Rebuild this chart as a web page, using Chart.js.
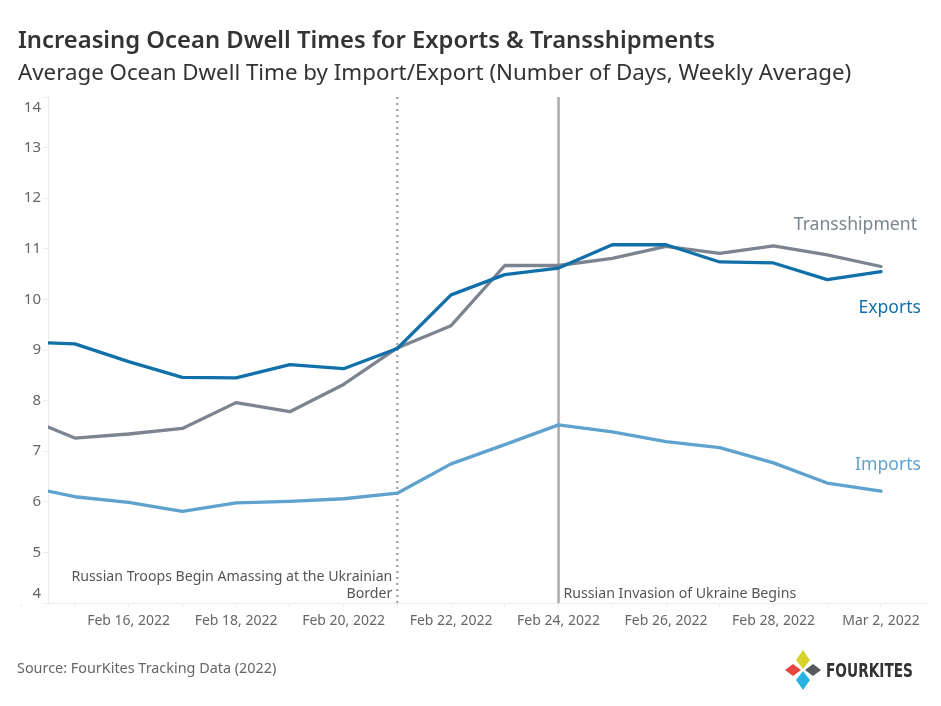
<!DOCTYPE html>
<html lang="en">
<head>
  <meta charset="UTF-8">
  <title>Ocean Dwell Times</title>
  <style>
    html, body { margin: 0; padding: 0; background: #fff; }
    body { width: 941px; height: 706px; position: relative; overflow: hidden; font-family: "Noto Sans", sans-serif; }
    .title { position: absolute; left: 18px; top: 23px; font-size: 23.8px; font-weight: 600; color: #333; white-space: nowrap; }
    .subtitle { position: absolute; left: 18px; top: 56px; font-size: 22.3px; color: #333; white-space: nowrap; }
    .source { position: absolute; left: 17px; top: 658px; font-size: 14.4px; color: #666; }
    .chart-box { position: absolute; left: 0; top: 0; width: 941px; height: 706px; }
    .logo { position: absolute; left: 784px; top: 649px; }
  </style>
</head>
<body>
  <div class="chart-box"><canvas id="dwellChart" width="941" height="706"></canvas></div>
  <div class="title">Increasing Ocean Dwell Times for Exports &amp; Transshipments</div>
  <div class="subtitle">Average Ocean Dwell Time by Import/Export (Number of Days, Weekly Average)</div>
  <div class="source">Source: FourKites Tracking Data (2022)</div>
  <svg class="logo" width="140" height="44" viewBox="0 0 140 44">
    <polygon points="19,1 26,11 19,20 12,11" fill="#d7d32a"/>
    <polygon points="1,21 9,15 17,21 9,27" fill="#e8473f"/>
    <polygon points="21,21 29,15 37,21 29,27" fill="#555a5f"/>
    <polygon points="19,22 26,31 19,41 12,31" fill="#27b4e3"/>
    <text x="42" y="28" font-family="DejaVu Sans Condensed, DejaVu Sans" font-weight="bold" font-size="19" textLength="87" lengthAdjust="spacingAndGlyphs" fill="#333">FOURKITES</text>
  </svg>

  <script src="https://cdn.jsdelivr.net/npm/chart.js"></script>
  <script>
    const dates = ['2022-02-14', '2022-02-15', '2022-02-16', '2022-02-17', '2022-02-18', '2022-02-19',
      '2022-02-20', '2022-02-21', '2022-02-22', '2022-02-23', '2022-02-24', '2022-02-25',
      '2022-02-26', '2022-02-27', '2022-02-28', '2022-03-01', '2022-03-02'];
    const exportsDays = [9.16, 9.12, 8.77, 8.46, 8.45, 8.71, 8.63, 9.03, 10.09, 10.49, 10.62, 11.08, 11.08, 10.74, 10.72, 10.39, 10.55];
    const transshipDays = [7.70, 7.26, 7.34, 7.45, 7.96, 7.78, 8.32, 9.04, 9.48, 10.67, 10.67, 10.81, 11.05, 10.91, 11.06, 10.88, 10.65];
    const importsDays = [6.32, 6.10, 5.99, 5.81, 5.98, 6.01, 6.06, 6.17, 6.75, 7.13, 7.52, 7.38, 7.19, 7.07, 6.77, 6.37, 6.21];
    const labeledDates = ['2022-02-16', '2022-02-18', '2022-02-20', '2022-02-22', '2022-02-24', '2022-02-26', '2022-02-28', '2022-03-02'];
    const yTicks = [4, 5, 6, 7, 8, 9, 10, 11, 12, 13, 14];
    const events = [
      { date: '2022-02-21', lines: ['Russian Troops Begin Amassing at the Ukrainian', 'Border'], dotted: true },
      { date: '2022-02-24', lines: ['Russian Invasion of Ukraine Begins'], dotted: false }
    ];

    const day0 = Date.parse(dates[0]);
    const dayIndex = s => (Date.parse(s) - day0) / 864e5;
    const fmtDate = i => new Date(day0 + i * 864e5).toLocaleDateString('en-US',
      { month: 'short', day: 'numeric', year: 'numeric', timeZone: 'UTC' });
    const labeledIdx = labeledDates.map(dayIndex);

    const toPoints = vals => vals.map((v, i) => ({ x: dayIndex(dates[i]), y: v }));

    const colors = { exports: '#1170aa', trans: '#7b848f', imports: '#5fa2ce' };

    const overlay = {
      id: 'overlay',
      beforeDraw(chart) {
        // keep the end labels of the value axis inside the plot, like Tableau does
        const y = chart.scales.y;
        const items = y.getLabelItems(chart.chartArea);
        items.forEach((it, i) => {
          const v = y.ticks[i].value;
          if (v === y.max) it.options.translation[1] += 11;
          if (v === y.min) it.options.translation[1] -= 9;
        });
      },
      beforeDatasetsDraw(chart) {
        const { ctx, chartArea, scales } = chart;
        ctx.save();
        events.forEach(ev => {
          const x = scales.x.getPixelForValue(dayIndex(ev.date));
          ctx.beginPath();
          ctx.lineWidth = ev.dotted ? 2 : 2.5;
          ctx.strokeStyle = ev.dotted ? '#9a9a9a' : '#aaaaaa';
          ctx.setLineDash(ev.dotted ? [2, 4] : []);
          ctx.moveTo(x, chartArea.top);
          ctx.lineTo(x, chartArea.bottom);
          ctx.stroke();
          ctx.setLineDash([]);
          ctx.font = '14.15px "Noto Sans"';
          ctx.fillStyle = '#555';
          ctx.textBaseline = 'middle';
          const n = ev.lines.length;
          ev.lines.forEach((t, k) => {
            const y = chartArea.bottom - 9 - (n - 1 - k) * 17.5;
            if (ev.dotted) { ctx.textAlign = 'right'; ctx.fillText(t, x - 5, y); }
            else { ctx.textAlign = 'left'; ctx.fillText(t, x + 5, y); }
          });
        });
        ctx.restore();
      },
      afterDatasetsDraw(chart) {
        const { ctx, chartArea } = chart;
        ctx.save();
        ctx.font = '17.6px "Noto Sans"';
        ctx.textAlign = 'right';
        ctx.textBaseline = 'middle';
        const offsets = [36, -42, -26];
        chart.data.datasets.forEach((ds, i) => {
          const meta = chart.getDatasetMeta(i);
          const last = meta.data[meta.data.length - 1];
          ctx.fillStyle = ds.borderColor;
          ctx.fillText(ds.label, chartArea.right - 7 - (i === 1 ? 4 : 0), last.y + offsets[i]);
        });
        ctx.restore();
      }
    };

    new Chart(document.getElementById('dwellChart'), {
      type: 'line',
      data: {
        datasets: [
          { label: 'Exports', data: toPoints(exportsDays), borderColor: colors.exports },
          { label: 'Transshipment', data: toPoints(transshipDays), borderColor: colors.trans },
          { label: 'Imports', data: toPoints(importsDays), borderColor: colors.imports }
        ]
      },
      options: {
        responsive: false,
        animation: false,
        devicePixelRatio: 1,
        layout: { padding: { top: 97, right: 13, bottom: 63, left: 0 } },
        elements: {
          line: { borderWidth: 3.3, tension: 0, borderCapStyle: 'round', borderJoinStyle: 'round' },
          point: { radius: 0, hoverRadius: 0 }
        },
        plugins: { legend: { display: false }, tooltip: { enabled: false } },
        scales: {
          x: {
            type: 'linear',
            min: 0.5,
            max: 16.875,
            afterBuildTicks(scale) {
              scale.ticks = dates.map(d => ({ value: dayIndex(d) }));
            },
            afterFit(scale) { scale.height = 40; },
            ticks: {
              autoSkip: false,
              maxRotation: 0,
              padding: 6,
              color: '#666',
              font: { family: 'Noto Sans', size: 14 },
              callback: v => labeledIdx.includes(v) ? fmtDate(v) : ''
            },
            grid: { drawOnChartArea: false, tickLength: 4, color: '#ebebeb' },
            border: { color: '#ebebeb' }
          },
          y: {
            min: 4,
            max: 14,
            afterBuildTicks(scale) {
              scale.ticks = yTicks.map(v => ({ value: v }));
            },
            afterFit(scale) { scale.width = 48; },
            ticks: {
              padding: 2,
              color: '#666',
              font: { family: 'Noto Sans', size: 15 }
            },
            grid: { drawOnChartArea: false, tickLength: 5, color: '#ebebeb' },
            border: { color: '#ebebeb' }
          }
        }
      },
      plugins: [overlay]
    });
  </script>
</body>
</html>
